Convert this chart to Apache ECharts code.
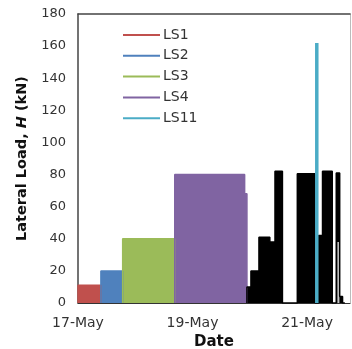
<!DOCTYPE html>
<html>
<head>
<meta charset="utf-8">
<script src="https://cdn.jsdelivr.net/npm/echarts@6/dist/echarts.min.js"></script>
<style>html,body{margin:0;padding:0;background:#fff}#c{width:352px;height:349px}</style>
</head>
<body>
<div id="c"></div>
<script>
// Time in days after 17-May 00:00; load in kN
const xTickValues = [0, 2, 4];
const xTickLabels = ['17-May', '19-May', '21-May'];
const yTicks = [0, 20, 40, 60, 80, 100, 120, 140, 160, 180];

const ls1Times = [0, 0.40];
const ls1Loads = [11];
const ls2Times = [0.40, 0.78];
const ls2Loads = [20];
const ls3Times = [0.78, 1.69];
const ls3Loads = [40];
const ls4Times = [1.69, 2.91, 2.95];
const ls4Loads = [80, 68];
const ls11Times = [4.17, 4.17];
const ls11Loads = [0, 162];
const otherTimes = [2.95, 3.02, 3.16, 3.35, 3.44, 3.57, 3.83, 4.14, 4.20, 4.27, 4.44, 4.51, 4.57, 4.62, 4.66];
const otherLoads = [10, 20, 41, 38, 82, 0, 80.5, 0, 42, 82, 0, 81, 4, 0];
const otherGrayTimes = [4.53, 4.565];
const otherGrayLoads = [38];

function stepData(times, loads) {
  const d = [[times[0], 0]];
  for (let i = 0; i < loads.length; i++) {
    d.push([times[i], loads[i]], [times[i + 1], loads[i]]);
  }
  d.push([times[times.length - 1], 0]);
  return d;
}

const FONT = 'DejaVu Sans';
function blockSeries(name, times, loads, color, lw) {
  return {
    name: name, type: 'line', data: stepData(times, loads),
    symbol: 'none', animation: false,
    lineStyle: { color: color, width: lw === undefined ? 1.5 : lw },
    itemStyle: { color: color },
    areaStyle: { color: color, opacity: 1 }
  };
}

const chart = echarts.init(document.getElementById('c'));
chart.setOption({
  animation: false,
  grid: { left: 78, right: 2, top: 14, bottom: 46, outerBoundsMode: 'none', containLabel: false },
  legend: {
    data: ['LS1', 'LS2', 'LS3', 'LS4', 'LS11'],
    orient: 'vertical', left: 117, top: 23,
    itemWidth: 37, itemHeight: 10, itemGap: 6.8,
    itemStyle: { opacity: 0 },
    textStyle: { fontFamily: FONT, fontSize: 14, color: '#333', padding: [0, 0, 0, -2] }
  },
  xAxis: [{
    type: 'value', min: 0, max: 4.75, interval: 2,
    name: 'Date', nameLocation: 'middle', nameGap: 32,
    nameTextStyle: { fontFamily: FONT, fontWeight: 'bold', fontSize: 15, color: '#111' },
    axisLine: { onZero: false, lineStyle: { color: '#333', width: 1 } },
    axisTick: { show: false },
    splitLine: { show: false },
    axisLabel: {
      showMaxLabel: false, margin: 13,
      fontFamily: FONT, fontSize: 14, color: '#333',
      formatter: v => { const i = xTickValues.indexOf(v); return i >= 0 ? xTickLabels[i] : ''; }
    }
  }, {
    type: 'value', position: 'top', min: 0, max: 4.75,
    axisLine: { show: true, onZero: false, lineStyle: { color: '#444', width: 1.5 } },
    axisTick: { show: false }, axisLabel: { show: false }, splitLine: { show: false }
  }],
  yAxis: [{
    type: 'value', min: yTicks[0], max: yTicks[yTicks.length - 1], interval: 20,
    name: 'Lateral Load, {i|H} (kN)', nameLocation: 'middle', nameGap: 48, nameRotate: 90,
    nameTextStyle: {
      fontFamily: FONT, fontWeight: 'bold', fontSize: 14.5, color: '#111',
      rich: { i: { fontFamily: FONT, fontWeight: 'bold', fontStyle: 'italic', fontSize: 14.5, color: '#111' } }
    },
    axisLine: { show: true, onZero: false, lineStyle: { color: '#444', width: 1.5 } },
    axisTick: { show: false },
    splitLine: { show: false },
    axisLabel: { margin: 12, fontFamily: FONT, fontSize: 13, color: '#333' }
  }, {
    type: 'value', position: 'right', min: 0, max: 180,
    axisLine: { show: true, onZero: false, lineStyle: { color: '#bbb', width: 1 } },
    axisTick: { show: false }, axisLabel: { show: false }, splitLine: { show: false }
  }],
  series: [
    blockSeries('LS1', ls1Times, ls1Loads, '#C0504D'),
    blockSeries('LS2', ls2Times, ls2Loads, '#4F81BD'),
    blockSeries('LS3', ls3Times, ls3Loads, '#9BBB59'),
    blockSeries('LS4', ls4Times, ls4Loads, '#8064A2'),
    blockSeries('Other', otherTimes, otherLoads, '#000000'),
    blockSeries('OtherGray', otherGrayTimes, otherGrayLoads, '#c8c8c8', 0),
    {
      name: 'LS11', type: 'line', symbol: 'none',
      data: ls11Times.map((t, i) => [t, ls11Loads[i]]),
      lineStyle: { color: '#4BACC6', width: 3.5 },
      itemStyle: { color: '#4BACC6' }, z: 5
    }
  ]
});
</script>
</body>
</html>
